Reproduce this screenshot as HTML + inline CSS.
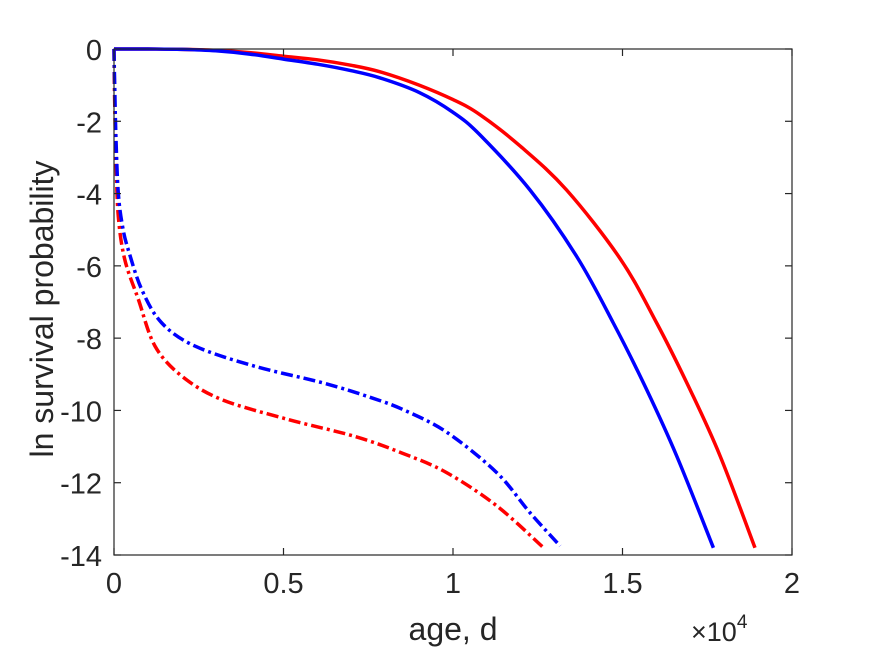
<!DOCTYPE html>
<html><head><meta charset="utf-8"><style>
body{margin:0;background:#fff}
svg{display:block;font-family:"Liberation Sans",Arial,sans-serif}
</style></head><body>
<svg id="chart" width="875" height="656" viewBox="0 0 875 656">
<rect width="875" height="656" fill="#fff"/>
<g id="plot"></g>
<g id="axes"></g>
<text x="453" y="640" font-size="32" fill="#262626" text-anchor="middle">age, d</text>
<text x="691" y="641" font-size="27" fill="#262626">×10<tspan font-size="19" dy="-13">4</tspan></text>
<text transform="translate(53,309) rotate(-90)" font-size="32" fill="#262626" text-anchor="middle">ln survival probability</text>
</svg>
<script>
const xTicks=[0,0.5,1,1.5,2];
const xTickLabels=["0","0.5","1","1.5","2"];
const yTicks=[0,-2,-4,-6,-8,-10,-12,-14];
const yTickLabels=["0","-2","-4","-6","-8","-10","-12","-14"];
const redSolidX=[0,0.1,0.2,0.3,0.4,0.5,0.6,0.7,0.785,0.9,1.0,1.08,1.2,1.335,1.493,1.601,1.699,1.788,1.891];
const redSolidY=[0,0,-0.01,-0.04,-0.1,-0.2,-0.3,-0.45,-0.63,-1.0,-1.4,-1.82,-2.7,-3.9,-5.8,-7.58,-9.42,-11.26,-13.8];
const blueSolidX=[0,0.1,0.2,0.3,0.4,0.5,0.6,0.7,0.785,0.9,1.0,1.08,1.227,1.365,1.473,1.571,1.66,1.768];
const blueSolidY=[0,0,-0.01,-0.05,-0.14,-0.28,-0.42,-0.6,-0.8,-1.2,-1.75,-2.38,-3.9,-5.74,-7.58,-9.42,-11.26,-13.8];
const blueDashX=[0,0.002,0.006,0.0127,0.025,0.042,0.082,0.141,0.239,0.416,0.613,0.76,0.858,0.981,1.129,1.227,1.316];
const blueDashY=[0,-1,-2.5,-3.99,-4.9,-5.55,-6.66,-7.58,-8.22,-8.78,-9.23,-9.65,-10.0,-10.6,-11.72,-12.83,-13.75];
const redDashX=[0,0.002,0.006,0.0127,0.032,0.072,0.121,0.2,0.318,0.514,0.711,0.85,0.981,1.129,1.266];
const redDashY=[0,-1.5,-3,-4.63,-5.83,-6.93,-8.22,-9.05,-9.7,-10.25,-10.72,-11.18,-11.72,-12.64,-13.79];

const L=114,R=792,T=49,B=555;
const xMin=0,xMax=2,yMin=-14,yMax=0;
function sx(v){return L+(v-xMin)/(xMax-xMin)*(R-L);}
function sy(v){return T+(yMax-v)/(yMax-yMin)*(B-T);}
const NS="http://www.w3.org/2000/svg";
const plot=document.getElementById('plot'),axes=document.getElementById('axes');
function mk(tag,attrs,parent){const e=document.createElementNS(NS,tag);for(const k in attrs)e.setAttribute(k,attrs[k]);parent.appendChild(e);return e;}
function pathFor(xs,ys){
  const p=xs.map((x,i)=>[sx(x),sy(ys[i])]);
  let d="M"+p[0][0].toFixed(1)+","+p[0][1].toFixed(1);
  for(let i=0;i<p.length-1;i++){
    const p0=p[Math.max(0,i-1)],p1=p[i],p2=p[i+1],p3=p[Math.min(p.length-1,i+2)];
    const c1=[p1[0]+(p2[0]-p0[0])/6,p1[1]+(p2[1]-p0[1])/6];
    const c2=[p2[0]-(p3[0]-p1[0])/6,p2[1]-(p3[1]-p1[1])/6];
    d+=" C"+c1.map(v=>v.toFixed(1)).join(",")+" "+c2.map(v=>v.toFixed(1)).join(",")+" "+p2.map(v=>v.toFixed(1)).join(",");
  }
  return d;
}
const series=[
 [redSolidX,redSolidY,"#ff0000","none","red-solid-line"],
 [blueSolidX,blueSolidY,"#0000ff","none","blue-solid-line"],
 [redDashX,redDashY,"#ff0000","12,4,3,4","red-dashdot-line"],
 [blueDashX,blueDashY,"#0000ff","12,4,3,4","blue-dashdot-line"]
];
series.forEach(s=>{
  const el=mk('path',{d:pathFor(s[0],s[1]),fill:"none",stroke:s[2],"stroke-width":3.5,"stroke-dasharray":s[3]},plot);
  
  
});
const box=mk('rect',{x:L,y:T,width:R-L,height:B-T,fill:"none",stroke:"#262626","stroke-width":1.2},axes);


xTicks.forEach((t,i)=>{
  const x=sx(t);
  mk('line',{x1:x,y1:B,x2:x,y2:B-7,stroke:"#262626","stroke-width":1.2},axes);
  mk('line',{x1:x,y1:T,x2:x,y2:T+7,stroke:"#262626","stroke-width":1.2},axes);
  const tx=mk('text',{x:x,y:B+38,"font-size":29,fill:"#262626","text-anchor":"middle"},axes);
  tx.textContent=xTickLabels[i];
  
  
});
yTicks.forEach((t,i)=>{
  const y=sy(t);
  mk('line',{x1:L,y1:y,x2:L+7,y2:y,stroke:"#262626","stroke-width":1.2},axes);
  mk('line',{x1:R,y1:y,x2:R-7,y2:y,stroke:"#262626","stroke-width":1.2},axes);
  const tx=mk('text',{x:L-12,y:y+11,"font-size":29,fill:"#262626","text-anchor":"end"},axes);
  tx.textContent=yTickLabels[i];
  
  
});
</script>
</body></html>
